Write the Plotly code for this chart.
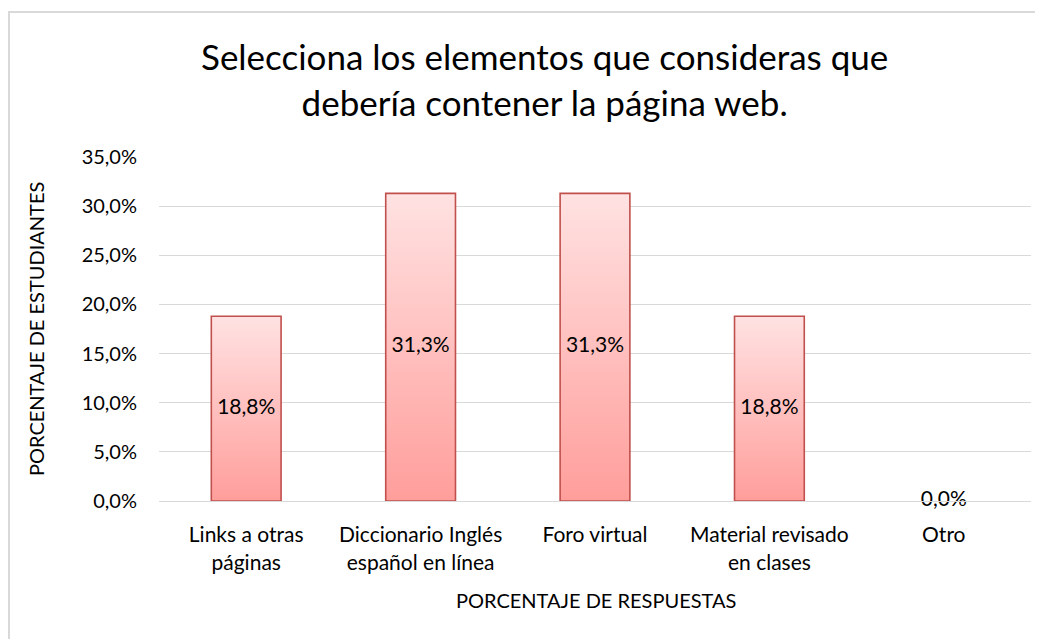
import plotly.graph_objects as go

categories = ["Links a otras<br>páginas", "Diccionario Inglés<br>español en línea",
              "Foro virtual", "Material revisado<br>en clases", "Otro"]
values = [18.8, 31.3, 31.3, 18.8, 0.0]
y_ticks = [0, 5, 10, 15, 20, 25, 30, 35]

title_text = "Selecciona los elementos que consideras que<br>debería contener la página web."
y_title = "PORCENTAJE DE ESTUDIANTES"
x_title = "PORCENTAJE DE RESPUESTAS"

FONT = "Lato"
BAR_W = 0.4
TOP_C = "#FFE2E2"
BOT_C = "#FF9E9B"
EDGE = "#C0504D"

# figure geometry (page body adds an 8px offset)
W, H = 1035, 631
ML, MR, MT, MB = 151, 12, 149, 138
PW, PH = W - ML - MR, H - MT - MB


def px(fx):
    return (fx - ML) / PW


def py(fy):
    return (H - MB - fy) / PH


def fmt(v):
    return f"{v:.1f}".replace(".", ",") + "%"


fig = go.Figure()
for i, v in enumerate(values):
    x0, x1 = i - BAR_W / 2, i + BAR_W / 2
    fig.add_trace(go.Scatter(
        x=[x0, x1, x1, x0, x0], y=[0, 0, v, v, 0],
        mode="lines", fill="toself",
        fillgradient=dict(type="vertical", colorscale=[[0, BOT_C], [1, TOP_C]]),
        line=dict(color=EDGE, width=1.6 if v > 0 else 0),
        hoverinfo="skip", showlegend=False,
    ))

fig.add_trace(go.Scatter(
    x=list(range(len(values))), y=[v / 2 for v in values],
    mode="text", text=[fmt(v) for v in values],
    textposition="middle center", cliponaxis=False,
    textfont=dict(family=FONT, size=21, color="#000000"),
    hoverinfo="skip", showlegend=False,
))

fig.update_layout(
    width=W, height=H,
    margin=dict(l=ML, r=MR, t=MT, b=MB),
    paper_bgcolor="white", plot_bgcolor="white",
    font=dict(family=FONT, color="#000000"),
    xaxis=dict(range=[-0.5, len(values) - 0.5], tickvals=list(range(len(values))),
               ticktext=categories, showgrid=False, zeroline=False,
               showline=True, linecolor="#D9D9D9", linewidth=1,
               ticks="", ticklabelstandoff=15,
               tickfont=dict(family=FONT, size=21, color="#000000"), fixedrange=True),
    yaxis=dict(range=[0, 35], tickvals=y_ticks, ticktext=[fmt(t) for t in y_ticks],
               showgrid=True, gridcolor="#D9D9D9", gridwidth=1, zeroline=False,
               showline=False, ticks="", ticklabelstandoff=21,
               tickfont=dict(family=FONT, size=20, color="#000000"), fixedrange=True),
    annotations=[
        dict(text=title_text, xref="paper", yref="paper", x=px(536), y=py(71),
             xanchor="center", yanchor="middle", showarrow=False, align="center",
             font=dict(family=FONT, size=35, color="#000000")),
        dict(text=y_title, xref="paper", yref="paper", x=px(28), y=0.5,
             xanchor="center", yanchor="middle", textangle=-90, showarrow=False,
             font=dict(family=FONT, size=20, color="#000000")),
        dict(text=x_title, xref="paper", yref="paper", x=px(588), y=py(592),
             xanchor="center", yanchor="middle", showarrow=False,
             font=dict(family=FONT, size=20, color="#000000")),
    ],
    shapes=[dict(type="rect", xref="paper", yref="paper",
                 x0=px(1), x1=1.2, y0=-0.6, y1=py(4),
                 line=dict(color="#D9D9D9", width=2), fillcolor="rgba(0,0,0,0)",
                 layer="below")],
)

fig.write_html("out.html")
